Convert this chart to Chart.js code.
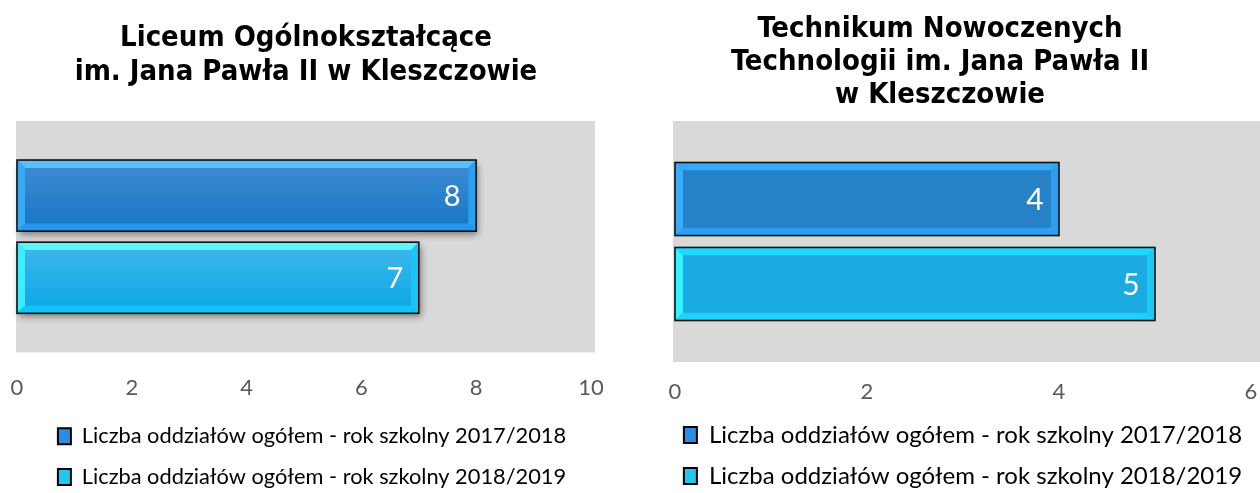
<!DOCTYPE html>
<html><head><meta charset="utf-8">
<script src="https://cdn.jsdelivr.net/npm/chart.js@4.4.1/dist/chart.umd.min.js"></script>
<style>
html,body{margin:0;padding:0;background:#fff;width:1260px;height:493px;overflow:hidden}
#c1{position:absolute;left:0;top:0}
#c2{position:absolute;left:620px;top:0}
</style></head><body>
<canvas id="c1" width="612" height="493"></canvas>
<canvas id="c2" width="640" height="493"></canvas>
<script>
// ---------- data ----------
const seriesLabels = ['Liczba oddziałów ogółem - rok szkolny 2017/2018', 'Liczba oddziałów ogółem - rok szkolny 2018/2019'];
const categories = [''];
const liceumTitle = ['Liceum Ogólnokształcące', 'im. Jana Pawła II w Kleszczowie'];
const liceum2017 = [8];
const liceum2018 = [7];
const liceumTicks = [0, 2, 4, 6, 8, 10];
const technikumTitle = ['Technikum Nowoczenych', 'Technologii im. Jana Pawła II', 'w Kleszczowie'];
const technikum2017 = [4];
const technikum2018 = [5];
const technikumTicks = [0, 2, 4, 6];

// ---------- styles ----------
const BEVEL_L = [
  {top:'#5cbfff', left:'#3aa9f5', right:'#2a9ff0', bottom:'#2596ec', in1:'#3b8bd2', in2:'#1a78c6', legend:'#2a8ee0'},
  {top:'#5af6ff', left:'#40ecff', right:'#18c6f5', bottom:'#12c4fb', in1:'#3db6ec', in2:'#0ea9e6', legend:'#1ec8f0'}
];
const BEVEL_R = [
  {top:'#33a9f8', left:'#3aabf8', right:'#2d9ff0', bottom:'#2e9ff0', in1:'#2681c7', in2:'#2681c7', legend:'#2a8fe0'},
  {top:'#20d8ff', left:'#34f2ff', right:'#1ec8f5', bottom:'#1fcffd', in1:'#1caae2', in2:'#1caae2', legend:'#22c8f0'}
];
const LABEL_FONT = '"Lato", "Open Sans", sans-serif';
const TITLE_FONT = '"DejaVu Sans Condensed", "DejaVu Sans", sans-serif';

function rectOf(el) {
  const p = el.getProps(['x', 'y', 'base', 'height'], true);
  return {l: Math.min(p.x, p.base), r: Math.max(p.x, p.base), t: p.y - p.height / 2, b: p.y + p.height / 2};
}
function poly(ctx, pts, color) {
  ctx.beginPath(); ctx.moveTo(pts[0][0], pts[0][1]);
  for (let i = 1; i < pts.length; i++) ctx.lineTo(pts[i][0], pts[i][1]);
  ctx.closePath(); ctx.fillStyle = color; ctx.fill();
}
function makePlugin(styles, cfg) {
  return {
    id: 'deco',
    afterLayout(chart) {
      if (cfg.legShift && chart.legend) { chart.legend.left += cfg.legShift; chart.legend.right += cfg.legShift; }
    },
    beforeDraw(chart) {
      const a = chart.chartArea, ctx = chart.ctx;
      ctx.save(); ctx.fillStyle = '#d9d9d9';
      const r = cfg.bgR === null ? chart.width : a.right + cfg.bgR;
      ctx.fillRect(a.left - cfg.bgL, a.top, r - (a.left - cfg.bgL), a.bottom - a.top);
      ctx.restore();
    },
    beforeDatasetsDraw(chart) {
      if (!cfg.shadow) return;
      const ctx = chart.ctx;
      ctx.save();
      ctx.shadowColor = 'rgba(0,0,0,0.45)'; ctx.shadowBlur = 7; ctx.shadowOffsetX = 2; ctx.shadowOffsetY = 4;
      ctx.fillStyle = '#777';
      chart.data.datasets.forEach((ds, i) => chart.getDatasetMeta(i).data.forEach(el => {
        const r = rectOf(el); ctx.fillRect(r.l, r.t, r.r - r.l, r.b - r.t);
      }));
      ctx.restore();
    },
    afterDatasetsDraw(chart) {
      const ctx = chart.ctx;
      ctx.save();
      chart.data.datasets.forEach((ds, i) => chart.getDatasetMeta(i).data.forEach((el, j) => {
        const s = styles[i];
        const {l, r, t, b} = rectOf(el);
        const w = 8;
        poly(ctx, [[l, t], [r, t], [r - w, t + w], [l + w, t + w]], s.top);
        poly(ctx, [[l, b], [r, b], [r - w, b - w], [l + w, b - w]], s.bottom);
        poly(ctx, [[l, t], [l + w, t + w], [l + w, b - w], [l, b]], s.left);
        poly(ctx, [[r, t], [r - w, t + w], [r - w, b - w], [r, b]], s.right);
        const g = ctx.createLinearGradient(0, t + w, 0, b - w);
        g.addColorStop(0, s.in1); g.addColorStop(1, s.in2);
        ctx.fillStyle = g; ctx.fillRect(l + w, t + w, r - l - 2 * w, b - t - 2 * w);
        ctx.lineWidth = 1.6; ctx.strokeStyle = '#111';
        ctx.strokeRect(l, t, r - l, b - t);
        ctx.fillStyle = '#ffffff';
        ctx.font = cfg.valSize + 'px ' + LABEL_FONT;
        ctx.textAlign = 'center'; ctx.textBaseline = 'middle';
        ctx.fillText(String(ds.data[j]), r - 24, (t + b) / 2 + 1);
      }));
      ctx.restore();
    }
  };
}

function spacer(position, width) {
  return {
    type: 'category', position: position, display: true,
    grid: {display: false, drawTicks: false}, border: {display: false},
    ticks: {display: false},
    afterFit: ax => { ax.width = width; }
  };
}

function build(canvasId, title, d1, d2, ticks, styles, cfg) {
  return new Chart(document.getElementById(canvasId), {
    type: 'bar',
    data: {
      labels: categories,
      datasets: [
        {label: seriesLabels[0], data: d1, backgroundColor: styles[0].in2, borderWidth: 0,
         categoryPercentage: cfg.cp, barPercentage: cfg.bp},
        {label: seriesLabels[1], data: d2, backgroundColor: styles[1].in2, borderWidth: 0,
         categoryPercentage: cfg.cp, barPercentage: cfg.bp}
      ]
    },
    options: {
      indexAxis: 'y',
      responsive: false,
      animation: false,
      events: [],
      layout: {padding: {left: 0, right: 0, top: 0, bottom: cfg.padB}},
      scales: {
        x: {
          min: ticks[0], max: ticks[ticks.length - 1],
          grid: {display: false, drawTicks: false},
          border: {display: false},
          afterBuildTicks: ax => { ax.ticks = ticks.map(v => ({value: v})); },
          afterFit: ax => { ax.height = cfg.axisH; ax.paddingLeft = 0; ax.paddingRight = 0; },
          ticks: {padding: cfg.tickPad, color: '#595959', font: {family: LABEL_FONT, size: cfg.tickSize}, maxRotation: 0}
        },
        y: spacer('left', cfg.spL),
        y2: spacer('right', cfg.spR)
      },
      plugins: {
        tooltip: {enabled: false},
        title: {
          display: true, text: title, color: '#000',
          font: {family: TITLE_FONT, weight: 'bold', size: cfg.titleSize, lineHeight: cfg.titleLH},
          padding: {top: cfg.titleTop, bottom: cfg.titleBottom}
        },
        legend: {
          position: 'bottom',
          fullSize: false,
          labels: {
            color: '#595959', font: {family: LABEL_FONT, size: cfg.legSize},
            boxWidth: 13, boxHeight: 16, padding: cfg.legPad,
            generateLabels: () => seriesLabels.map((t, i) => ({
              text: t, fillStyle: styles[i].legend, strokeStyle: '#000', lineWidth: 2, hidden: false, datasetIndex: i
            }))
          }
        }
      }
    },
    plugins: [makePlugin(styles, cfg)]
  });
}

build('c1', liceumTitle, liceum2017, liceum2018, liceumTicks, BEVEL_L, {
  cp: 0.71, bp: 0.866, spL: 17, spR: 21, padB: -5, axisH: 54, tickPad: 22, tickSize: 22,
  titleSize: 29, titleLH: 1.172, titleTop: 21, titleBottom: 32, legSize: 21.8, legPad: 19,
  shadow: true, bgL: 1, bgR: 4, valSize: 29, legShift: 8
});
build('c2', technikumTitle, technikum2017, technikum2018, technikumTicks, BEVEL_R, {
  cp: 0.705, bp: 0.86, spL: 55, spR: 9, padB: -5, axisH: 44, tickPad: 17, tickSize: 22,
  titleSize: 29, titleLH: 1.138, titleTop: 13, titleBottom: 9, legSize: 24, legPad: 17,
  shadow: false, bgL: 2, bgR: null, valSize: 30, legShift: 0
});
</script>
</body></html>
